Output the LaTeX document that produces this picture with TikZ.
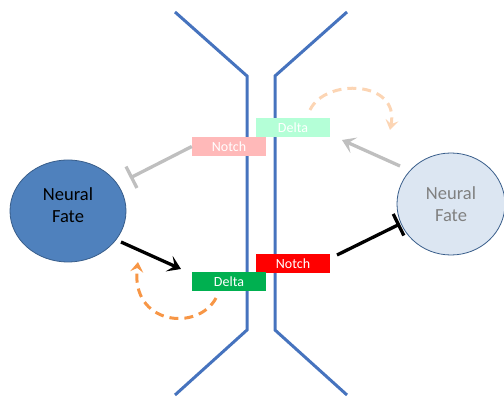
\documentclass[tikz,border=0pt]{standalone}
\usepackage{fontspec}
\setmainfont{Carlito}
\usetikzlibrary{arrows.meta,shapes.geometric}
\definecolor{memb}{RGB}{70,115,190}
\definecolor{cellA}{RGB}{79,129,189}
\definecolor{cellB}{RGB}{220,230,242}
\definecolor{cellE}{RGB}{56,93,138}
\definecolor{pink}{RGB}{255,185,185}
\definecolor{mint}{RGB}{180,255,215}
\definecolor{dgreen}{RGB}{0,176,80}
\definecolor{lgray}{RGB}{191,191,191}
\definecolor{orng}{RGB}{247,150,70}
\definecolor{porng}{RGB}{252,213,180}
\tikzset{
  memline/.style={draw=memb, line width=3pt},
  cell/.style={ellipse, draw=cellE, line width=0.8pt, minimum width=116pt, minimum height=102pt, align=center, font=\fontsize{18.5}{22}\selectfont, inner sep=0pt},
  lbl/.style={minimum width=74pt, minimum height=19pt, inner sep=0pt, text=white, font=\fontsize{14}{16}\selectfont},
  conn/.style={line width=3.3pt},
  inhib/.style={conn, -{Bar[width=24pt,line width=3.3pt]}},
  act/.style={conn, -{Stealth[length=13pt,width=17pt,inset=6pt]}},
  loop/.style={line width=3pt, dash pattern=on 9pt off 6pt, -{Stealth[length=10pt,width=13pt,inset=4pt]}}
}
\begin{document}
\begin{tikzpicture}[x=1pt,y=-1pt]
\useasboundingbox (0,0) rectangle (504,398);
% membranes
\draw[memline] (175,12) -- (247,76) -- (247,330) -- (175,395);
\draw[memline] (347,12) -- (275,76) -- (275,330) -- (347,395);
% cells
\node[cell, fill=cellA, text=black, text depth=12pt] (cL) at (68,211) {Neural\\Fate};
\node[cell, fill=cellB, text=gray, minimum width=108pt] (cR) at (451,204) {Neural\\Fate};
% labels
\node[lbl, fill=pink] (nP) at (229,146.5) {Notch};
\node[lbl, fill=mint] (dP) at (293,127.5) {Delta};
\node[lbl, fill=red] (nR) at (293,263.5) {Notch};
\node[lbl, fill=dgreen] (dG) at (229,281.5) {Delta};
% connectors
\coordinate (iL) at (130,178);
\coordinate (aL0) at (121,242);
\coordinate (aL1) at (181,269);
\coordinate (aR0) at (400,166);
\coordinate (aR1) at (342,140);
\coordinate (iR) at (400,224);
\coordinate (iR0) at (337,255);
\draw[inhib, draw=lgray] (nP.west) -- (iL);
\draw[act, draw=black] (aL0) -- (aL1);
\draw[act, draw=lgray] (aR0) -- (aR1);
\draw[inhib, draw=black] (iR0) -- (iR);
% loops
\coordinate (oA) at (216,298);
\coordinate (oB) at (138,262);
\draw[loop, draw=orng] (oA) .. controls (198,332) and (130,325) .. (oB);
\coordinate (pA) at (310,110);
\coordinate (pB) at (390,130);
\draw[loop, draw=porng] (pA) .. controls (325,78) and (400,80) .. (pB);
\end{tikzpicture}
\end{document}
